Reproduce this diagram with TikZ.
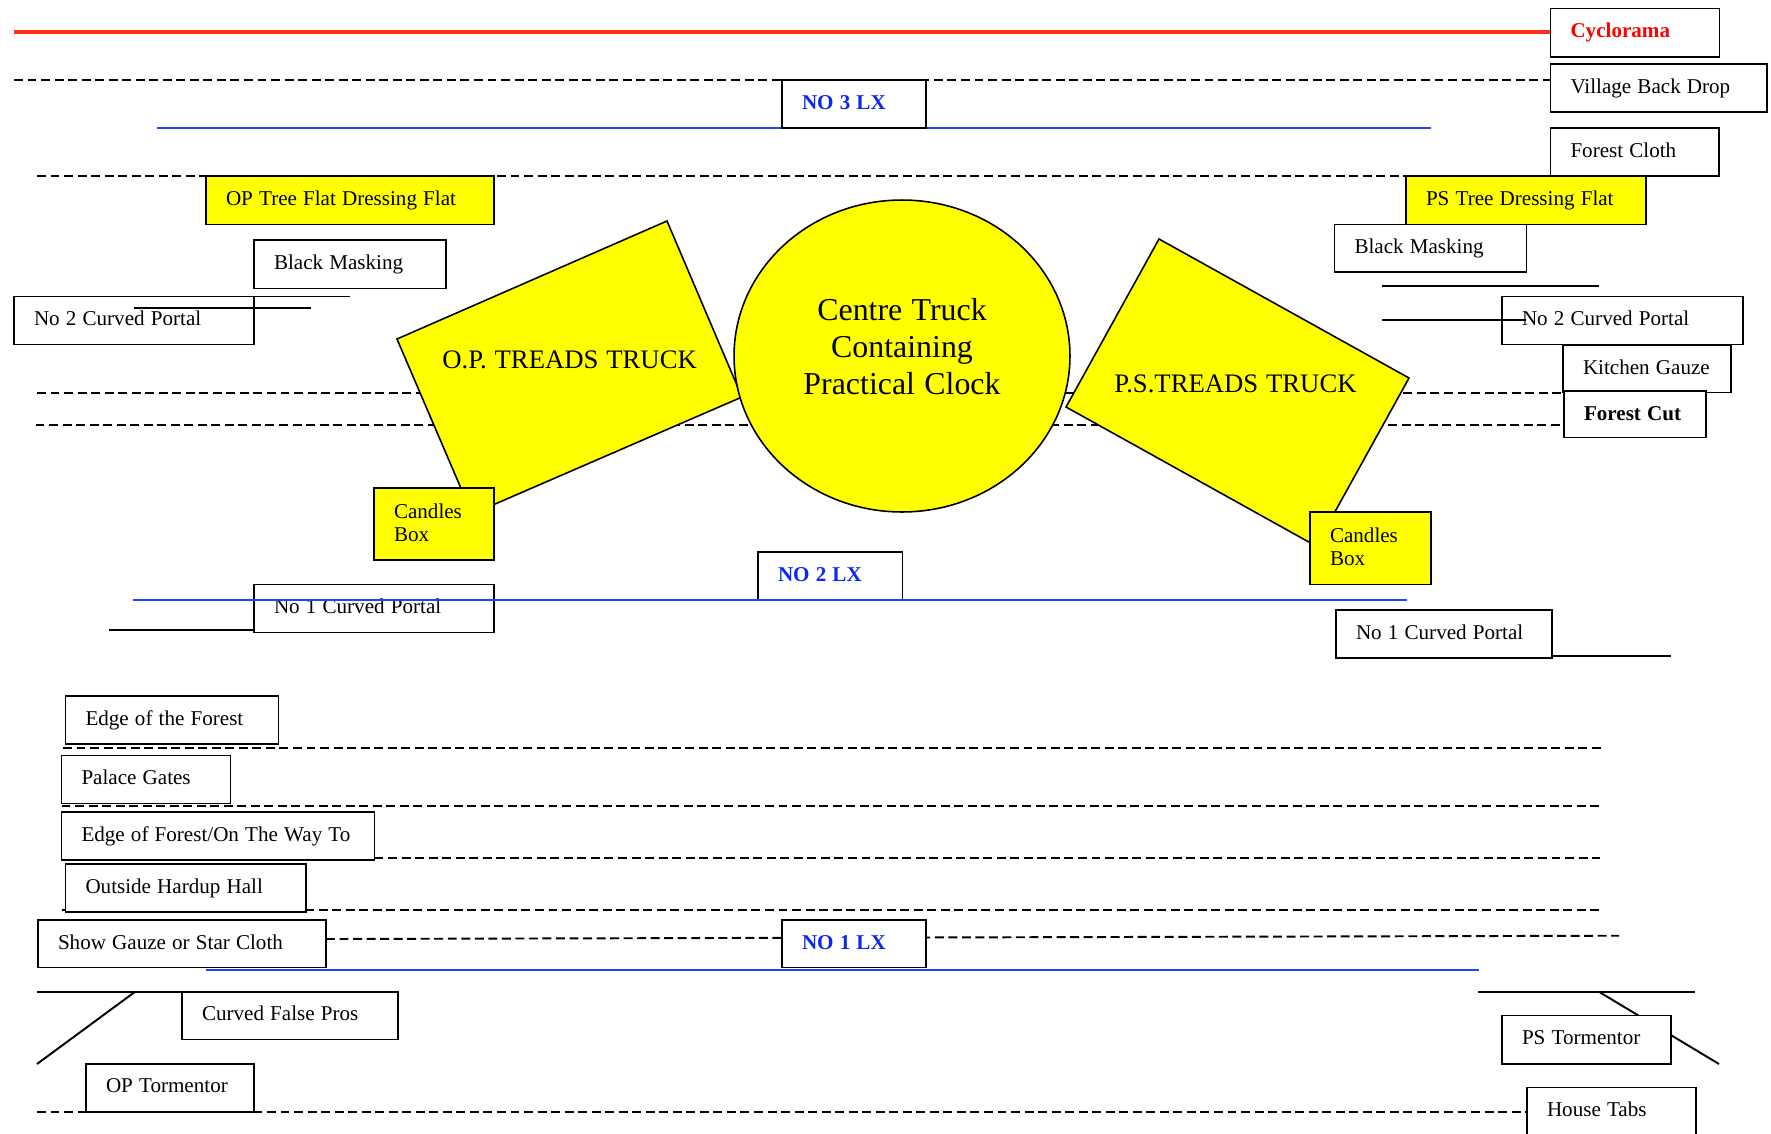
\documentclass[tikz,border=0pt]{standalone}
\usepackage{fontspec}
\setmainfont[WordSpace=1.17]{Liberation Serif}
\usepackage{tikz}
\usetikzlibrary{shapes.geometric}
\usetikzlibrary{backgrounds}
\definecolor{lxblue}{RGB}{30,70,255}
\definecolor{lxtext}{RGB}{10,40,240}
\definecolor{cycred}{RGB}{255,48,16}
\definecolor{cuttext}{RGB}{255,0,0}
\definecolor{truckyellow}{RGB}{255,255,0}
\tikzset{
    x=0.02cm, y=-0.02cm, % One unit is one pixel of the plan
    flat/.style 2 args={ % Sets the properties for each cloth label
        draw,
        line width=1pt,
        fill=white,
        rectangle,
        anchor=north west,
        outer sep=0pt,
        inner ysep=0pt,
        inner xsep=0.4cm,
        minimum width=#1*0.02cm,
        minimum height=#2*0.02cm,
        text width=(#1-40)*0.02cm,
        text height=0.58cm,
        text depth=(#2-29)*0.02cm,
        align=flush left,
        font=\fontsize{12}{13.1}\selectfont
    },
    dressing/.style 2 args={flat={#1}{#2}, fill=truckyellow},
    lxbox/.style 2 args={flat={#1}{#2}, text=lxtext, font=\fontsize{12}{13.1}\selectfont\bfseries},
    cloth/.style={ % Dashed hanging lines
        draw,
        line width=1.1pt,
        dash pattern=on 5.1pt off 2.6pt
    },
    bar/.style={draw, line width=1.1pt},
    lxbar/.style={draw, line width=1.1pt, lxblue},
    truck/.style={draw, fill=truckyellow, line width=0.9pt},
    trucktext/.style={anchor=base west, inner sep=0pt, font=\fontsize{15.2}{18}\selectfont}
}

\begin{document}
\begin{tikzpicture}
    \useasboundingbox (0,0) rectangle (1771,1133);

    % free ends
    \coordinate (cycl) at (14,32);
    \coordinate (d1) at (14,80);
    \coordinate (d2) at (37,176);
    \coordinate (d3) at (37,392.7);
    \coordinate (d4) at (35.5,424.7);
    \coordinate (d5) at (63,747.6);
    \coordinate (d5e) at (1601,747.6);
    \coordinate (d6) at (61.5,805.7);
    \coordinate (d6e) at (1600,805.7);
    \coordinate (d7e) at (1600,857.6);
    \coordinate (d8) at (61.5,909.7);
    \coordinate (d8e) at (1600,909.7);
    \coordinate (d9) at (326,939);
    \coordinate (d9e) at (1619,935.7);
    \coordinate (d10) at (37,1112);
    \coordinate (lx3l) at (157,128);
    \coordinate (lx3r) at (1431,128);
    \coordinate (lx2l) at (133,600);
    \coordinate (lx2r) at (1407,600);
    \coordinate (lx1l) at (206,969.7);
    \coordinate (lx1r) at (1479,969.7);
    \coordinate (po2a) at (350,296.5);
    \coordinate (po2b) at (134,307.6);
    \coordinate (po2be) at (311,307.6);
    \coordinate (pr2a) at (1382,286);
    \coordinate (pr2ae) at (1599,286);
    \coordinate (pr2b) at (1382,320);
    \coordinate (pr2be) at (1526,320);
    \coordinate (po1) at (109,630);
    \coordinate (pr1) at (1671,656);
    \coordinate (fpl) at (37,991.8);
    \coordinate (fpr) at (1478,991.8);
    \coordinate (fpre) at (1695,991.8);
    \coordinate (tol) at (135,991.8);
    \coordinate (tole) at (37,1064);
    \coordinate (tor) at (1599,991.8);
    \coordinate (tore) at (1719,1064);

    % trucks
    \draw[truck] (667,221) -- (397,339) -- (472,514) -- (742,397) -- cycle;
    \draw[truck] (1159,239) -- (1409,378) -- (1316,546) -- (1066,407) -- cycle;
    \node[draw, fill=truckyellow, ellipse, line width=0.9pt, inner sep=0pt,
          minimum width=6.72cm, minimum height=6.24cm] (clock) at (902,356) {};
    \node[align=center, inner sep=0pt, font=\fontsize{18.15}{21}\selectfont] (clocktext) at (902,346.5)
        {Centre Truck\\Containing\\Practical Clock};
    \node[trucktext] (optreads) at (442,368) {O.P. TREADS TRUCK};
    \node[trucktext] (pstreads) at (1114,392) {P.S.TREADS TRUCK};

    % labels, right side
    \node[flat={169}{48.5}, text=cuttext, font=\fontsize{12}{13.1}\selectfont\bfseries] (cyclorama) at (1550.5,8.5) {Cyclorama};
    \node[flat={216.5}{48}] (village) at (1550.5,64) {Village Back Drop};
    \node[lxbox={144}{48}] (lxthree) at (782,80) {NO 3 LX};
    \node[flat={168.5}{48}] (forestcloth) at (1550.5,128) {Forest Cloth};
    \node[dressing={288}{48.5}] (optree) at (206,176) {OP Tree Flat Dressing Flat};
    \node[dressing={240}{48.5}] (pstree) at (1406,176) {PS Tree Dressing Flat};
    \node[flat={192}{48.5}] (maskop) at (254,240) {Black Masking};
    \node[flat={192}{47.5}] (maskps) at (1334.5,224.5) {Black Masking};
    \node[flat={240}{48}] (portaltwoop) at (14,296.5) {No 2 Curved Portal};
    \node[flat={241}{48}] (portaltwops) at (1502,296.5) {No 2 Curved Portal};
    \node[flat={168}{47.5}] (kitchen) at (1563,345) {Kitchen Gauze};
    \node[flat={142}{46.5}, font=\fontsize{12}{13.1}\selectfont\bfseries] (forestcut) at (1564,391) {Forest Cut};
    \node[dressing={120}{72}, text depth=(72-31)*0.02cm] (candlesop) at (374,488) {Candles\\Box};
    \node[dressing={121}{72.5}, text height=0.6cm, text depth=(72.5-30)*0.02cm] (candlesps) at (1310,512) {Candles\\Box};
    \node[lxbox={144.5}{48}] (lxtwo) at (758,552) {NO 2 LX};
    \node[flat={240}{48}] (portaloneop) at (254,584.5) {No 1 Curved Portal};
    \node[flat={216}{48}] (portaloneps) at (1336,610) {No 1 Curved Portal};

    % labels, lower left
    \node[flat={213}{48}] (edge) at (65.5,696) {Edge of the Forest};
    \node[flat={169}{48}] (palace) at (61.5,755.5) {Palace Gates};
    \node[flat={313}{48}] (edgeway) at (61.5,812) {Edge of Forest/On The Way To};
    \node[flat={240.5}{47.8}] (hardup) at (65.5,864) {Outside Hardup Hall};
    \node[flat={288}{47.5}] (gauze) at (38,920) {Show Gauze or Star Cloth};
    \node[lxbox={144}{47.5}] (lxone) at (782,920) {NO 1 LX};
    \node[flat={216}{47.7}] (falsepros) at (182,991.8) {Curved False Pros};
    \node[flat={168}{48.3}] (tormop) at (86,1063.7) {OP Tormentor};
    \node[flat={169}{48.4}] (tormps) at (1502,1015.6) {PS Tormentor};
    \node[flat={169}{48}] (housetabs) at (1527,1087.5) {House Tabs};

    % lines behind the labels and trucks
    \begin{scope}[on background layer]
        \draw[cycred, line width=2.3pt] (cycl) -- (cycl -| cyclorama.west);
        \draw[cloth] (d1) -- (d1 -| village.west);
        \draw[lxbar] (lx3l) -- (lx3r);
        \draw[cloth] (d2) -- (d2 -| pstree.west);
        \draw[cloth] (d3) -- (d3 -| forestcut.west);
        \draw[cloth] (d4) -- (d4 -| forestcut.west);
        \draw[cloth] (d5) -- (d5e);
        \draw[cloth] (d6) -- (d6e);
        \draw[cloth] (edgeway.south east |- d7e) -- (d7e);
        \draw[cloth] (d8) -- (d8e);
        \draw[cloth] (d9) -- (d9e);
        \draw[cloth] (d10) -- (d10 -| housetabs.west);
        \draw[lxbar] (lx1l) -- (lx1r);
        \draw[bar] (tor) -- (tore);
    \end{scope}

    % lines in front
    \draw[lxbar] (lx2l) -- (lx2r);
    \draw[bar] (portaltwoop.north east) -- (po2a);
    \draw[bar] (po2b) -- (po2be);
    \draw[bar] (pr2a) -- (pr2ae);
    \draw[bar] (pr2b) -- (pr2be);
    \draw[bar] (po1) -- (po1 -| portaloneop.west);
    \draw[bar] (pr1 -| portaloneps.east) -- (pr1);
    \draw[bar] (fpl) -- (falsepros.north east);
    \draw[bar] (fpr) -- (fpre);
    \draw[bar] (tol) -- (tole);
\end{tikzpicture}
\end{document}
